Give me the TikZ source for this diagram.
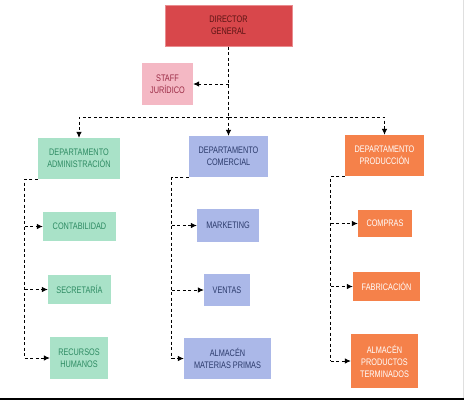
\documentclass[tikz,border=0pt]{standalone}
\usepackage{fontspec}
\setmainfont{Liberation Sans}[FakeStretch=0.77]
\usetikzlibrary{arrows.meta,positioning,calc}
\definecolor{dirfill}{HTML}{D8474B}
\definecolor{dirline}{HTML}{E98C8F}
\definecolor{dirtext}{HTML}{5A1414}
\definecolor{stafffill}{HTML}{F4B8C4}
\definecolor{stafftext}{HTML}{9B2B45}
\definecolor{admfill}{HTML}{A9E2C8}
\definecolor{admtext}{HTML}{2E8B63}
\definecolor{comfill}{HTML}{ABB8E8}
\definecolor{comtext}{HTML}{2B3A6B}
\definecolor{prodfill}{HTML}{F5814A}

\begin{document}
\begin{tikzpicture}[x=1pt,y=-1pt,
  box/.style={inner sep=0pt,align=center,font=\fontsize{9.5}{12}\selectfont},
  dirbox/.style={box,fill=dirfill,draw=dirline,line width=1pt,text=dirtext},
  staffbox/.style={box,fill=stafffill,text=stafftext},
  admbox/.style={box,fill=admfill,text=admtext},
  combox/.style={box,fill=comfill,text=comtext},
  prodbox/.style={box,fill=prodfill,text=white},
  link/.style={dashed,dash pattern=on 3pt off 2.5pt,line width=0.8pt},
  arr/.style={link,-{Latex[length=6pt,width=5.5pt]}}]
\useasboundingbox (0,0) rectangle (464,400);
\fill[white] (0,0) rectangle (464,400);
\fill[black] (0,398) rectangle (464,400);
\draw[gray!25] (463.5,0) -- (463.5,398);

% direccion
\node[dirbox,minimum width=127,minimum height=41] (dir) at (228.5,25.5) {DIRECTOR\\GENERAL};
\node[staffbox,minimum width=51,minimum height=42] (staff) at (167.5,84) {STAFF\\JUR\'IDICO};

% departamentos
\node[admbox,minimum width=82,minimum height=41] (adm) at (79,158.5) {DEPARTAMENTO\\ADMINISTRACI\'ON};
\node[combox,minimum width=79,minimum height=41] (com) at (228.5,156.5) {DEPARTAMENTO\\COMERCIAL};
\node[prodbox,minimum width=79,minimum height=41] (prod) at (384.5,155.5) {DEPARTAMENTO\\PRODUCCI\'ON};

% administracion
\node[admbox,minimum width=73,minimum height=29] (cont) at (79.5,226.5) {CONTABILIDAD};
\node[admbox,minimum width=63,minimum height=29] (secr) at (79.5,289.5) {SECRETAR\'IA};
\node[admbox,minimum width=58,minimum height=42] (rrhh) at (79,358) {RECURSOS\\HUMANOS};

% comercial
\node[combox,minimum width=62,minimum height=33] (mark) at (228,225.5) {MARKETING};
\node[combox,minimum width=46,minimum height=32] (vent) at (227,290) {VENTAS};
\node[combox,minimum width=87,minimum height=41] (almmp) at (227.5,358.5) {ALMAC\'EN\\MATERIAS PRIMAS};

% produccion
\node[prodbox,minimum width=54,minimum height=27] (comp) at (385,223.5) {COMPRAS};
\node[prodbox,minimum width=67,minimum height=29] (fabr) at (386.5,286.5) {FABRICACI\'ON};
\node[prodbox,minimum width=67,minimum height=54] (almpt) at (384.5,361) {ALMAC\'EN\\PRODUCTOS\\TERMINADOS};

% conexiones
\coordinate (split) at (228.5,117);
\draw[link] (dir.south) -- (split);
\draw[arr] (dir.south |- staff.east) -- (staff.east);
\draw[arr] (split) -| (adm.north);
\draw[arr] (split) -- (com.north);
\draw[arr] (split) -| (prod.north);

\coordinate (busA) at ($(adm.south west)+(-13,0)$);
\coordinate (busC) at ($(com.south west)+(-17,0)$);
\coordinate (busP) at ($(prod.south west)+(-14,0)$);
\draw[link] (adm.south west) -- (busA) -- (busA |- rrhh.west);
\draw[link] (com.south west) -- (busC) -- (busC |- almmp.west);
\draw[link] (prod.south west) -- (busP) -- (busP |- almpt.west);
\foreach \b/\n in {busA/cont,busA/secr,busA/rrhh,busC/mark,busC/vent,busC/almmp,busP/comp,busP/fabr,busP/almpt}
  \draw[arr] (\b |- \n.west) -- (\n.west);
\end{tikzpicture}
\end{document}
